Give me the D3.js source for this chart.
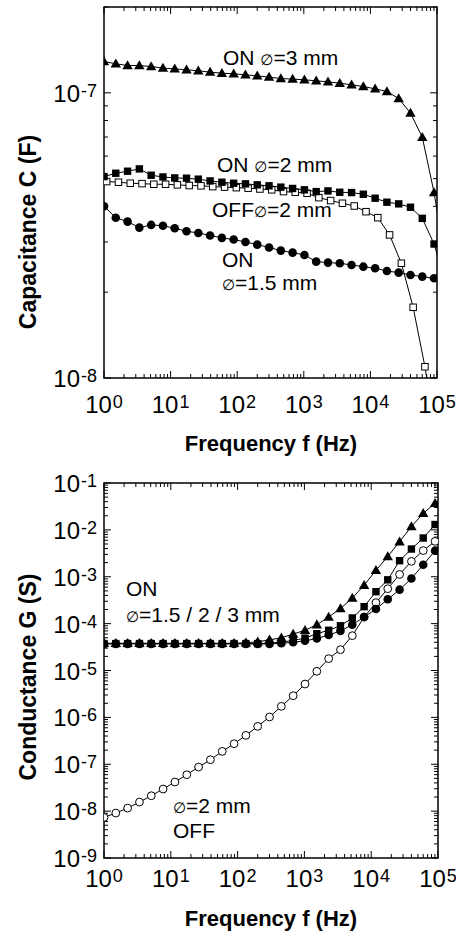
<!DOCTYPE html>
<html>
<head>
<meta charset="utf-8">
<script src="https://cdn.jsdelivr.net/npm/d3@7"></script>
<style>
  html, body { margin: 0; padding: 0; background: #fff; }
  svg { display: block; font-family: "Liberation Sans", Arial, Helvetica, sans-serif; }
</style>
</head>
<body>
<div id="chart"></div>
<script>
// Frequency sweep points (Hz)
const freq = [1, 1.503, 2.259, 3.396, 5.105, 7.674, 11.53, 17.34, 26.06, 39.17, 58.88, 88.51,
  133.0, 200.0, 300.6, 451.9, 679.2, 1021, 1535, 2307, 3467, 5212, 7834, 11780, 17700,
  26610, 39990, 60120, 90360, 135800];
// OFF capacitance sweep is slightly shifted
const freqOff = [1.096, 1.648, 2.477, 3.724, 5.598, 8.415, 12.64, 19.01, 28.58, 42.95, 64.56,
  97.05, 145.8, 219.3, 329.6, 495.5, 744.8, 1120, 1683, 2530, 3802, 5715, 8590, 12920, 19410,
  29180, 43850, 65920, 99080];

// Capacitance C (F)
const capOn3 = [1.288e-7, 1.264e-7, 1.247e-7, 1.247e-7, 1.237e-7, 1.221e-7, 1.214e-7, 1.204e-7,
  1.195e-7, 1.182e-7, 1.172e-7, 1.166e-7, 1.157e-7, 1.147e-7, 1.135e-7, 1.123e-7, 1.117e-7,
  1.111e-7, 1.102e-7, 1.093e-7, 1.081e-7, 1.067e-7, 1.052e-7, 1.033e-7, 1.011e-7, 9.55e-8,
  8.49e-8, 6.99e-8, 4.47e-8, 2.5e-8];
const capOn2 = [5.085e-8, 5.225e-8, 5.31e-8, 5.41e-8, 5.14e-8, 5.07e-8, 5.03e-8, 5.02e-8, 4.98e-8,
  4.91e-8, 4.86e-8, 4.82e-8, 4.795e-8, 4.757e-8, 4.72e-8, 4.67e-8, 4.62e-8, 4.57e-8, 4.505e-8,
  4.53e-8, 4.48e-8, 4.47e-8, 4.41e-8, 4.27e-8, 4.135e-8, 4.08e-8, 3.97e-8, 3.63e-8, 2.95e-8, 2.14e-8];
const capOff2 = [4.885e-8, 4.86e-8, 4.82e-8, 4.805e-8, 4.78e-8, 4.78e-8, 4.757e-8, 4.73e-8, 4.72e-8,
  4.69e-8, 4.67e-8, 4.65e-8, 4.63e-8, 4.6e-8, 4.57e-8, 4.505e-8, 4.48e-8, 4.445e-8, 4.29e-8,
  4.19e-8, 4.10e-8, 4.01e-8, 3.83e-8, 3.65e-8, 3.175e-8, 2.526e-8, 1.77e-8, 1.095e-8, 6.0e-9];
const capOn15 = [4.004e-8, 3.647e-8, 3.535e-8, 3.368e-8, 3.442e-8, 3.42e-8, 3.35e-8, 3.27e-8,
  3.226e-8, 3.162e-8, 3.1e-8, 3.058e-8, 3.0e-8, 2.935e-8, 2.87e-8, 2.797e-8, 2.752e-8, 2.701e-8,
  2.559e-8, 2.539e-8, 2.526e-8, 2.491e-8, 2.457e-8, 2.426e-8, 2.373e-8, 2.341e-8, 2.298e-8,
  2.267e-8, 2.238e-8, 2.22e-8];

// Conductance G (S)
const condOff2 = [7.35e-9, 9.1e-9, 1.16e-8, 1.56e-8, 2.13e-8, 2.96e-8, 4.17e-8, 5.98e-8, 8.71e-8,
  1.25e-7, 1.88e-7, 2.74e-7, 4.13e-7, 6.43e-7, 1.02e-6, 1.72e-6, 2.9e-6, 5.14e-6, 9.6e-6,
  1.79e-5, 2.78e-5, 5.53e-5, 1.38e-4, 2.8e-4, 5.56e-4, 1.12e-3, 2.13e-3, 3.62e-3, 5.69e-3];
const condOn3 = [3.8e-5, 3.8e-5, 3.8e-5, 3.8e-5, 3.8e-5, 3.8e-5, 3.8e-5, 3.8e-5, 3.8e-5, 3.8e-5,
  3.8e-5, 3.8e-5, 3.9e-5, 4.1e-5, 4.5e-5, 5.0e-5, 6.0e-5, 7.2e-5, 9.5e-5, 1.38e-4, 2.1e-4,
  3.5e-4, 6.6e-4, 1.37e-3, 2.7e-3, 5.6e-3, 1.18e-2, 2.25e-2, 3.7e-2];
const condOn2 = [3.75e-5, 3.75e-5, 3.75e-5, 3.75e-5, 3.75e-5, 3.75e-5, 3.75e-5, 3.75e-5, 3.75e-5,
  3.75e-5, 3.75e-5, 3.75e-5, 3.75e-5, 3.75e-5, 3.85e-5, 4.0e-5, 4.4e-5, 4.9e-5, 6.1e-5, 7.2e-5,
  9.0e-5, 1.32e-4, 2.3e-4, 4.8e-4, 8.6e-4, 2.2e-3, 3.9e-3, 6.7e-3, 1.3e-2];
const condOn15 = [3.7e-5, 3.7e-5, 3.7e-5, 3.7e-5, 3.7e-5, 3.7e-5, 3.7e-5, 3.7e-5, 3.7e-5, 3.7e-5,
  3.7e-5, 3.7e-5, 3.7e-5, 3.7e-5, 3.7e-5, 3.8e-5, 4.0e-5, 4.3e-5, 4.8e-5, 5.7e-5, 7.0e-5,
  9.5e-5, 1.38e-4, 2.05e-4, 3.3e-4, 5.3e-4, 9.2e-4, 1.8e-3, 3.6e-3];

const xExponents = [0, 1, 2, 3, 4, 5];
const capExponents = [-8, -7];
const condExponents = [-9, -8, -7, -6, -5, -4, -3, -2, -1];

const W = 456, H = 941;
const svg = d3.select('#chart').append('svg')
  .attr('width', W).attr('height', H);

function supLabel(sel, exp) {
  sel.append('tspan').text('10');
  sel.append('tspan').attr('dy', -5).attr('dx', 1).attr('font-size', 18).text(exp);
}

function drawPanel(cfg) {
  const x = d3.scaleLog().domain([1, 1e5]).range([cfg.x0, cfg.x1]);
  const y = d3.scaleLog().domain(cfg.yDomain).range([cfg.y1, cfg.y0]);
  const g = svg.append('g');

  const clipId = 'clip-' + cfg.id;
  svg.append('clipPath').attr('id', clipId)
    .append('rect')
    .attr('x', cfg.x0).attr('y', cfg.y0)
    .attr('width', cfg.x1 - cfg.x0).attr('height', cfg.y1 - cfg.y0);

  // ticks, inward on all four sides
  const isMajor = v => Math.abs(Math.log10(v) - Math.round(Math.log10(v))) < 1e-6;
  const ticks = g.append('g').attr('stroke', '#000').attr('stroke-width', 1);
  x.ticks().forEach(v => {
    const len = isMajor(v) ? 7 : 4;
    const px = x(v);
    ticks.append('line').attr('x1', px).attr('x2', px).attr('y1', cfg.y1).attr('y2', cfg.y1 - len);
    ticks.append('line').attr('x1', px).attr('x2', px).attr('y1', cfg.y0).attr('y2', cfg.y0 + len);
  });
  y.ticks().forEach(v => {
    const len = isMajor(v) ? 7 : 4;
    const py = y(v);
    ticks.append('line').attr('y1', py).attr('y2', py).attr('x1', cfg.x0).attr('x2', cfg.x0 + len);
    ticks.append('line').attr('y1', py).attr('y2', py).attr('x1', cfg.x1).attr('x2', cfg.x1 - len);
  });

  // frame
  g.append('rect')
    .attr('x', cfg.x0).attr('y', cfg.y0)
    .attr('width', cfg.x1 - cfg.x0).attr('height', cfg.y1 - cfg.y0)
    .attr('fill', 'none').attr('stroke', '#000').attr('stroke-width', 1.5);

  // tick labels
  xExponents.forEach(e => {
    g.append('text')
      .attr('x', x(Math.pow(10, e)))
      .attr('y', cfg.xLabelY)
      .attr('text-anchor', 'middle')
      .attr('font-size', 24)
      .call(supLabel, String(e));
  });
  cfg.yExponents.forEach(e => {
    g.append('text')
      .attr('x', 97)
      .attr('y', y(Math.pow(10, e)) + 9)
      .attr('text-anchor', 'end')
      .attr('font-size', 24)
      .call(supLabel, '-' + Math.abs(e));
  });

  // axis titles
  g.append('text')
    .attr('x', 271).attr('y', cfg.xTitleY)
    .attr('text-anchor', 'middle')
    .attr('font-size', 22).attr('font-weight', 'bold')
    .text('Frequency f (Hz)');
  g.append('text')
    .attr('transform', `translate(36, ${cfg.yTitleMid}) rotate(-90)`)
    .attr('text-anchor', 'middle')
    .attr('font-size', 23).attr('font-weight', 'bold')
    .text(cfg.yTitle);

  // series
  const plot = g.append('g').attr('clip-path', `url(#${clipId})`);
  const line = d3.line().x(d => x(d[0])).y(d => y(d[1]));

  cfg.series.forEach(s => {
    const pts = s.values.map((v, i) => [s.f[i], v]);
    plot.append('path')
      .attr('d', line(pts))
      .attr('fill', 'none').attr('stroke', '#000').attr('stroke-width', 1);

    const m = plot.append('g');
    pts.forEach(p => {
      const cx = x(p[0]), cy = y(p[1]);
      if (s.shape === 'triangle') {
        const r = 5.3;
        m.append('path')
          .attr('d', `M${cx},${cy - r}L${cx + r * 0.98},${cy + r * 0.7}L${cx - r * 0.98},${cy + r * 0.7}Z`)
          .attr('fill', '#000');
      } else if (s.shape === 'square') {
        const a = s.open ? 6.5 : 7.4;
        m.append('rect')
          .attr('x', cx - a / 2).attr('y', cy - a / 2)
          .attr('width', a).attr('height', a)
          .attr('fill', s.open ? '#fff' : '#000')
          .attr('stroke', '#000').attr('stroke-width', s.open ? 1 : 0);
      } else {
        m.append('circle')
          .attr('cx', cx).attr('cy', cy)
          .attr('r', s.open ? 3.9 : 4.3)
          .attr('fill', s.open ? '#fff' : '#000')
          .attr('stroke', '#000').attr('stroke-width', s.open ? 1 : 0);
      }
    });
  });

  // annotations
  cfg.notes.forEach(n => {
    const t = g.append('text')
      .attr('x', n.x).attr('y', n.y)
      .attr('font-size', 21);
    n.parts.forEach(p => {
      const ts = t.append('tspan').text(p.t);
      if (p.dia) ts.attr('font-size', 15).attr('font-family', 'DejaVu Sans');
    });
  });
}

const DIA = '\u2205';

drawPanel({
  id: 'cap',
  x0: 104, x1: 437, y0: 7, y1: 378,
  yDomain: [1e-8, 2e-7],
  yExponents: capExponents,
  xLabelY: 413, xTitleY: 451,
  yTitle: 'Capacitance C (F)', yTitleMid: 232,
  series: [
    { f: freqOff, values: capOff2, shape: 'square', open: true },
    { f: freq, values: capOn15, shape: 'circle' },
    { f: freq, values: capOn2, shape: 'square' },
    { f: freq, values: capOn3, shape: 'triangle' },
  ],
  notes: [
    { x: 223, y: 65, parts: [{ t: 'ON ' }, { t: DIA, dia: true }, { t: '=3 mm' }] },
    { x: 217, y: 172, parts: [{ t: 'ON ' }, { t: DIA, dia: true }, { t: '=2 mm' }] },
    { x: 212, y: 217, parts: [{ t: 'OFF' }, { t: DIA, dia: true }, { t: '=2 mm' }] },
    { x: 222, y: 267, parts: [{ t: 'ON' }] },
    { x: 222, y: 290, parts: [{ t: DIA, dia: true }, { t: '=1.5 mm' }] },
  ],
});

drawPanel({
  id: 'cond',
  x0: 104, x1: 438, y0: 483, y1: 858,
  yDomain: [1e-9, 1e-1],
  yExponents: condExponents,
  xLabelY: 887, xTitleY: 926,
  yTitle: 'Conductance G (S)', yTitleMid: 677,
  series: [
    { f: freq, values: condOff2, shape: 'circle', open: true },
    { f: freq, values: condOn15, shape: 'circle' },
    { f: freq, values: condOn2, shape: 'square' },
    { f: freq, values: condOn3, shape: 'triangle' },
  ],
  notes: [
    { x: 126, y: 596, parts: [{ t: 'ON' }] },
    { x: 126, y: 622, parts: [{ t: DIA, dia: true }, { t: '=1.5 / 2 / 3 mm' }] },
    { x: 173, y: 813, parts: [{ t: DIA, dia: true }, { t: '=2 mm' }] },
    { x: 173, y: 838, parts: [{ t: 'OFF' }] },
  ],
});
</script>
</body>
</html>
